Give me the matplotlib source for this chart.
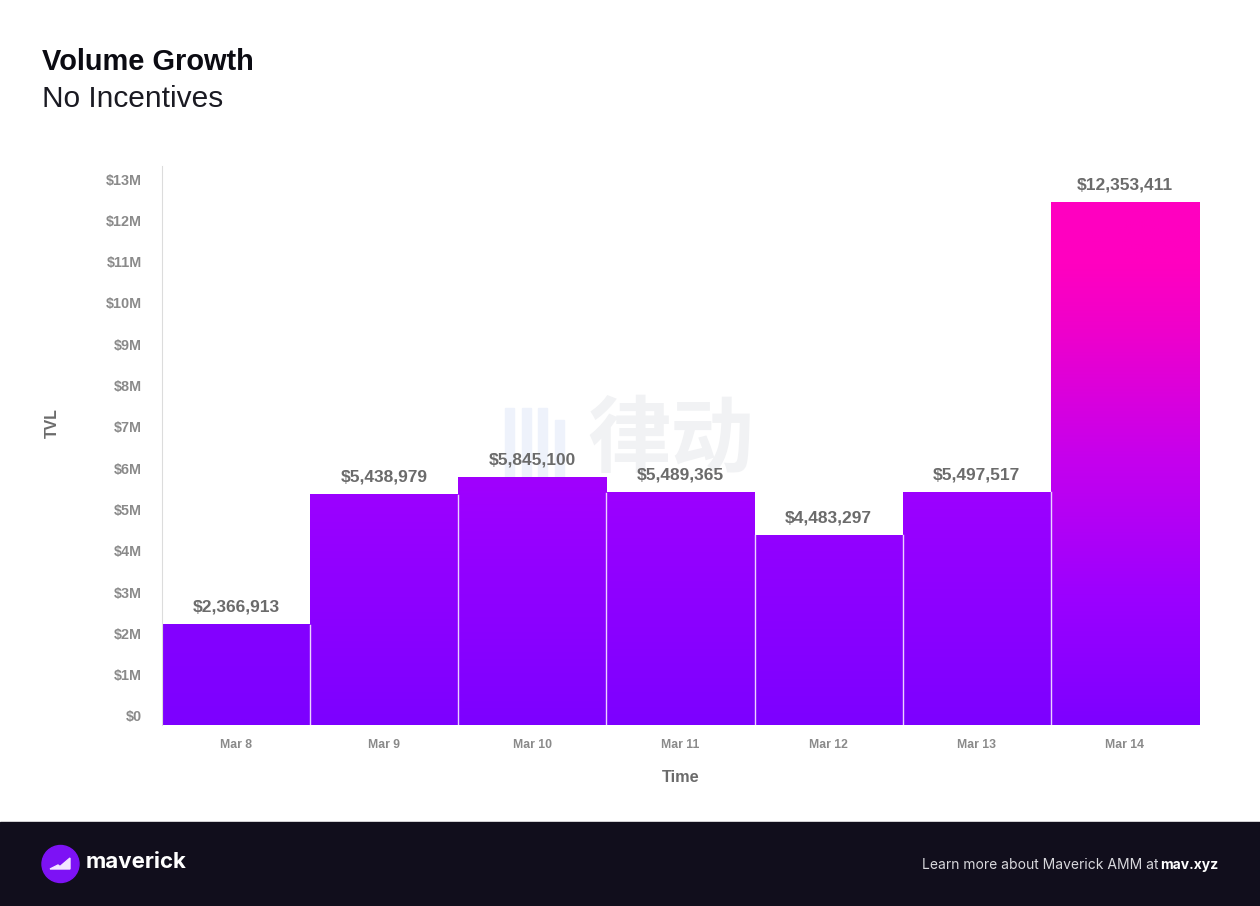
import numpy as np
import matplotlib
matplotlib.use("Agg")
import matplotlib.pyplot as plt
from matplotlib.colors import LinearSegmentedColormap
from matplotlib.patches import Circle, Polygon, Rectangle

W, H = 1260, 906

days = ["Mar 8", "Mar 9", "Mar 10", "Mar 11", "Mar 12", "Mar 13", "Mar 14"]
volume = [2366913, 5438979, 5845100, 5489365, 4483297, 5497517, 12353411]
tick_millions = list(range(14))
tick_labels = ["$0"] + ["$%dM" % m for m in tick_millions[1:]]

plt.rcParams["font.family"] = ["Liberation Sans", "DejaVu Sans"]

fig = plt.figure(figsize=(W / 100, H / 100), dpi=100, facecolor="white")


def box(x0, y0, x1, y1):
    # pixel box, y measured from the top of the image
    return [x0 / W, 1 - y1 / H, (x1 - x0) / W, (y1 - y0) / H]


# pixel canvas for the footer band and watermark, behind everything
bg = fig.add_axes([0, 0, 1, 1], facecolor="none", zorder=0)
bg.set_xlim(0, W)
bg.set_ylim(H, 0)
bg.axis("off")
bg.add_patch(Rectangle((0, 822), W, 84, color="#110e1c"))
bg.text(671, 441, "律动", family=["Noto Sans CJK SC"], fontsize=60, fontweight="bold", color="#f1f2f4",
        ha="center", va="center")
for bx, by0 in zip([505, 522, 538, 555], [408, 408, 408, 420]):
    bg.add_patch(Rectangle((bx, by0), 8.5, 478 - by0, color="#eef2fb"))

# bar axes: 42.3 px per $1M
ax = fig.add_axes(box(162, 166, 1199, 725), facecolor="none", zorder=1)
y_top = (725 - 166) / 42.3 * 1e6

cmap = LinearSegmentedColormap.from_list(
    "mav",
    [(0, "#7d00ff"), (0.25, "#9c00ff"), (0.5, "#c400ee"), (0.75, "#ee00cc"), (0.88, "#ff00c0"), (1, "#ff00c0")],
)
grad = np.linspace(0, 1, 256).reshape(-1, 1)
top = max(volume)
bars = ax.bar(range(len(days)), volume, width=1.0, color="none", edgecolor="none")
for i, (b, v) in enumerate(zip(bars, volume)):
    # shorter bars only use the lower part of the ramp
    ramp = grad * ((v / top) ** 1.7)
    ax.imshow(ramp, extent=(i - 0.5, i + 0.5, 0, v), origin="lower", cmap=cmap, vmin=0, vmax=1,
              aspect="auto", zorder=2)
    ax.text(i, v + 0.24e6, "${:,}".format(v), ha="center", va="bottom", fontsize=12.5, fontweight="bold",
            color="#6b6b6b", zorder=4)
    if i:
        ax.axvline(i - 0.5, ymax=min(v, volume[i - 1]) / y_top, color="#ecd0ff", lw=1, zorder=3)
ax.set_xlim(-0.5, 6.5)
ax.set_ylim(0, y_top)

for s in ["top", "right", "bottom"]:
    ax.spines[s].set_visible(False)
ax.spines["left"].set_color("#dcdcdc")
ax.spines["left"].set_linewidth(0.8)
ax.set_yticks([])
ax.set_xticks(range(len(days)))
ax.set_xticklabels(days, fontsize=8.8, fontweight="bold", color="#8a8a8a")
ax.tick_params(axis="x", length=0, pad=10.2)
ax.set_xlabel("Time", fontsize=11.7, fontweight="bold", color="#6b6b6b", labelpad=13.6)

# tick labels sit on their own scale, 41.3 px per $1M with $0 at y=716
ax2 = fig.add_axes(box(162, 166, 1199, 725), facecolor="none", zorder=2)
ax2.set_ylim(-9 / 41.3, (716 - 166) / 41.3)
ax2.set_xticks([])
for s in ax2.spines.values():
    s.set_visible(False)
ax2.set_yticks(tick_millions)
ax2.set_yticklabels(tick_labels, fontsize=10.4, fontweight="bold", color="#8a8a8a")
ax2.tick_params(axis="y", length=0, pad=14.5)

# title, axis name and footer text on a top canvas
top_ax = fig.add_axes([0, 0, 1, 1], facecolor="none", zorder=3)
top_ax.set_xlim(0, W)
top_ax.set_ylim(H, 0)
top_ax.axis("off")
top_ax.text(52, 423, "TVL", rotation=90, ha="center", va="center", fontsize=11.4, fontweight="bold", color="#6b6b6b")
top_ax.text(42, 62, "Volume Growth", fontsize=20.85, fontweight="bold", color="#0b0b12", va="center")
top_ax.text(42, 99, "No Incentives", fontsize=21.5, color="#1a1a22", va="center")

top_ax.add_patch(Circle((60.5, 864), 18.5, color="#7d12f5"))
top_ax.add_patch(Polygon([(50, 869), (58, 865), (60, 866.5), (70, 858), (70, 869)], color="#f3e6ff"))
top_ax.text(86, 862, "maverick", family=["Inter"], fontsize=16, fontweight="bold", color="white", va="center")
top_ax.text(1218, 865, "mav.xyz", family=["Inter"], fontsize=10, fontweight="bold", color="white", va="center", ha="right")
top_ax.text(1159, 865, "Learn more about Maverick AMM at", family=["Inter"], fontsize=10, color="#d8d8dc",
            va="center", ha="right")

fig.savefig("out.png", dpi=100, facecolor="white")
